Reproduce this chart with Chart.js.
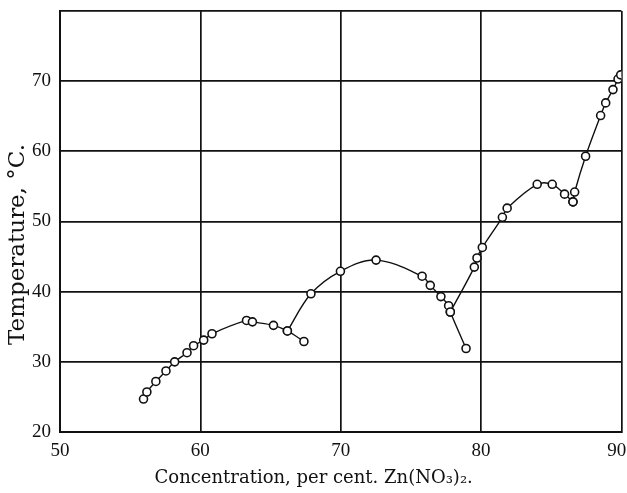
<!DOCTYPE html>
<html>
<head>
<meta charset="utf-8">
<script src="https://cdn.jsdelivr.net/npm/chart.js@4"></script>
<style>
  html, body { margin: 0; padding: 0; background: #fff; }
  #wrap { width: 627px; height: 493px; }
</style>
</head>
<body>
<div id="wrap"><canvas id="zncChart" width="627" height="493"></canvas></div>
<script>
// Solubility branches, concentration (% Zn(NO3)2) vs temperature (°C)
const branchA_x = [55.95, 56.19, 56.83, 57.55, 58.17, 59.05, 59.52, 60.24, 60.83, 63.29, 63.71, 65.21, 66.2, 67.38];
const branchA_y = [24.7, 25.7, 27.2, 28.7, 30.0, 31.3, 32.3, 33.1, 34.0, 35.9, 35.7, 35.2, 34.4, 32.9];

const branchB_x = [66.2, 67.88, 69.98, 72.52, 75.8, 76.38, 77.14, 77.69, 77.81, 78.93];
const branchB_y = [34.4, 39.7, 42.9, 44.5, 42.2, 40.9, 39.3, 38.0, 37.1, 31.9];

const branchC_x = [77.81, 79.52, 79.71, 80.09, 81.52, 81.86, 84.0, 85.07, 85.95, 86.55];
const branchC_y = [37.1, 43.5, 44.8, 46.3, 50.6, 51.9, 55.3, 55.3, 53.9, 52.8];

const branchD_x = [86.55, 86.67, 87.45, 88.52, 88.88, 89.4, 89.76, 89.95];
const branchD_y = [52.8, 54.2, 59.3, 65.1, 66.9, 68.8, 70.3, 70.9];

const xTicks = [50, 60, 70, 80, 90];
const yTicks = [20, 30, 40, 50, 60, 70, 80];

const ink = '#111';
const serif = '"Liberation Serif", "DejaVu Serif", serif';
const wideSerif = '"DejaVu Serif", "Liberation Serif", serif';

function toPoints(xs, ys) {
    return xs.map((x, i) => ({ x: x, y: ys[i] }));
}

function branch(xs, ys) {
    return {
        data: toPoints(xs, ys),
        borderColor: ink,
        borderWidth: 1.4,
        pointRadius: 4,
        pointBorderWidth: 1.6,
        pointBackgroundColor: '#fff',
        pointBorderColor: ink,
        tension: 0.35,
        fill: false
    };
}

const ctx = document.getElementById('zncChart').getContext('2d');
new Chart(ctx, {
    type: 'line',
    data: {
        datasets: [
            branch(branchA_x, branchA_y),
            branch(branchB_x, branchB_y),
            branch(branchC_x, branchC_y),
            branch(branchD_x, branchD_y)
        ]
    },
    options: {
        responsive: false,
        animation: false,
        layout: { padding: { top: 11, right: 5, left: 0, bottom: 0 } },
        plugins: {
            legend: { display: false },
            tooltip: { enabled: false }
        },
        scales: {
            x: {
                type: 'linear',
                min: 50,
                max: 90,
                afterBuildTicks: axis => { axis.ticks = xTicks.map(v => ({ value: v })); },
                grid: { color: ink, lineWidth: 1.7, drawTicks: false },
                border: { color: ink, width: 2 },
                ticks: {
                    color: ink,
                    padding: 8,
                    maxRotation: 0,
                    font: { family: serif, size: 19 },
                    // last label sits slightly inside the frame, as in the print
                    callback: v => (v === 90 ? '90\u2002' : v)
                },
                title: {
                    display: true,
                    text: 'Concentration, per cent. Zn(NO\u2083)\u2082.\u2003\u2003\u2003',
                    color: ink,
                    padding: { top: 0, bottom: 4 },
                    font: { family: wideSerif, size: 18 }
                },
                afterFit: axis => {
                    axis.height = 61;
                    axis.paddingLeft = 0;
                    axis.paddingRight = 0;
                }
            },
            y: {
                type: 'linear',
                min: 20,
                max: 80,
                afterBuildTicks: axis => { axis.ticks = yTicks.map(v => ({ value: v })); },
                grid: { color: ink, lineWidth: 1.7, drawTicks: false },
                border: { color: ink, width: 2 },
                ticks: {
                    color: ink,
                    padding: 9,
                    font: { family: serif, size: 19 },
                    callback: v => (v === 80 ? '' : v)
                },
                title: {
                    display: true,
                    text: 'Temperature, °C.\u2003\u2003',
                    color: ink,
                    padding: { top: 4, bottom: 0 },
                    font: { family: wideSerif, size: 23 }
                },
                afterFit: axis => {
                    axis.width = 60;
                    axis.paddingTop = 0;
                    axis.paddingBottom = 0;
                }
            }
        }
    }
});
</script>
</body>
</html>
